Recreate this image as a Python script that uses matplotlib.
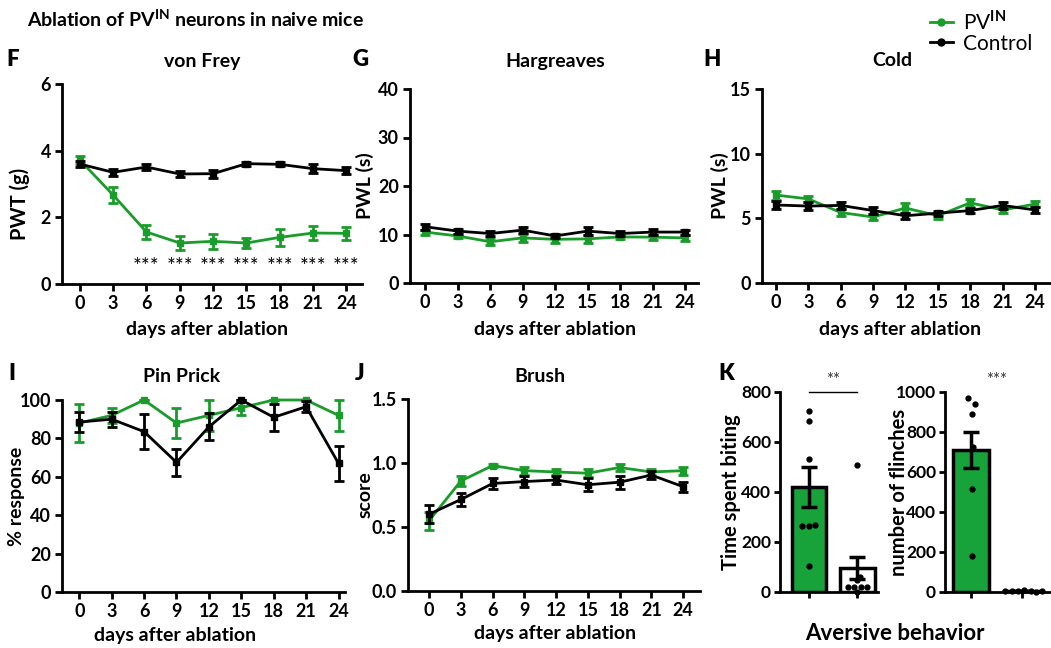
import numpy as np
import matplotlib
matplotlib.use("Agg")
import matplotlib.pyplot as plt
from matplotlib.lines import Line2D

FONT = 'Lato'
plt.rcParams['font.family'] = [FONT, 'DejaVu Sans']
plt.rcParams['font.weight'] = 'bold'
plt.rcParams['mathtext.fontset'] = 'custom'
plt.rcParams['mathtext.rm'] = FONT
plt.rcParams['mathtext.bf'] = FONT + ':bold'

GREEN = '#1a9c2a'
BAR_GREEN = '#18a23a'
WB = 'bold'

days = [0, 3, 6, 9, 12, 15, 18, 21, 24]

# von Frey (PWT, g)
vf_pv = [3.72, 2.67, 1.56, 1.23, 1.28, 1.23, 1.40, 1.53, 1.52]
vf_pv_err = [0.12, 0.25, 0.2, 0.22, 0.22, 0.15, 0.25, 0.22, 0.2]
vf_ctl = [3.6, 3.35, 3.51, 3.3, 3.31, 3.61, 3.59, 3.46, 3.4]
vf_ctl_err = [0.08, 0.1, 0.09, 0.08, 0.12, 0.06, 0.06, 0.14, 0.1]
vf_sig_days = [6, 9, 12, 15, 18, 21, 24]

# Hargreaves (PWL, s)
hg_pv = [10.5, 9.7, 8.5, 9.3, 9.0, 9.1, 9.5, 9.45, 9.3]
hg_pv_err = [0.5, 0.5, 0.7, 0.8, 0.7, 0.8, 0.5, 0.5, 0.6]
hg_ctl = [11.6, 10.7, 10.2, 10.9, 9.7, 10.7, 10.2, 10.5, 10.5]
hg_ctl_err = [0.6, 0.5, 0.6, 0.6, 0.4, 0.8, 0.5, 0.6, 0.5]

# Cold (PWL, s)
cd_pv = [6.8, 6.5, 5.45, 5.1, 5.8, 5.2, 6.2, 5.65, 6.1]
cd_pv_err = [0.35, 0.25, 0.3, 0.25, 0.35, 0.25, 0.3, 0.2, 0.25]
cd_ctl = [6.03, 5.95, 6.0, 5.6, 5.2, 5.4, 5.6, 6.0, 5.65]
cd_ctl_err = [0.3, 0.3, 0.25, 0.3, 0.25, 0.2, 0.2, 0.25, 0.25]

# Pin Prick (% response)
pp_pv = [88, 92, 100, 88, 92, 96, 100, 100, 92]
pp_pv_err = [10, 4, 0, 8, 8, 4, 0, 0, 8]
pp_ctl = [88.5, 90, 83.5, 67.5, 86, 100, 91, 96.5, 67]
pp_ctl_err = [5, 4, 9, 7, 7, 0, 7, 3, 9]

# Brush (score)
br_pv = [0.55, 0.86, 0.98, 0.94, 0.93, 0.92, 0.965, 0.93, 0.94]
br_pv_err = [0.07, 0.04, 0.015, 0.03, 0.025, 0.03, 0.03, 0.025, 0.03]
br_ctl = [0.6, 0.715, 0.84, 0.855, 0.867, 0.83, 0.85, 0.906, 0.815]
br_ctl_err = [0.07, 0.05, 0.04, 0.04, 0.03, 0.05, 0.05, 0.03, 0.04]

# Aversive behavior
bite_mean = [420, 96]
bite_sem = [80, 44]
bite_pv_pts = [724, 684, 532, 264, 264, 268, 104]
bite_ctl_pts = [508, 60, 48, 20, 20, 20, 20, 2]
flinch_mean = [710, 5]
flinch_sem = [90, 2]
flinch_pv_pts = [970, 940, 890, 725, 515, 180]
flinch_ctl_pts = [4, 6, 3, 8, 5, 2, 7]

# point spread (layout only)
bite_pv_dx = [0, 0, 0, -0.14, 0, 0.12, 0]
bite_ctl_dx = [0, 0.06, 0, -0.19, -0.06, 0.08, 0.21, 0]
flinch_pv_dx = [-0.06, 0.08, 0.02, 0.05, 0.02, 0.02]
flinch_ctl_dx = [-0.33, -0.2, -0.08, 0.05, 0.17, 0.28, 0.4]

W, H = 1051, 648
fig = plt.figure(figsize=(W / 100, H / 100), dpi=100)


def rect(l, t, r, b):
    return [l / W, 1 - b / H, (r - l) / W, (b - t) / H]


def fx(x):
    return x / W


def fy(y):
    return 1 - y / H


def style(ax, size=13, length=5, pad=3):
    for s in ['top', 'right']:
        ax.spines[s].set_visible(False)
    for s in ['left', 'bottom']:
        ax.spines[s].set_linewidth(2.0)
    ax.tick_params(width=2.0, length=length, labelsize=size, pad=pad)
    for lab in ax.get_xticklabels() + ax.get_yticklabels():
        lab.set_fontweight(WB)


def line_panel(ax, pv, pv_err, ctl, ctl_err, ylim, yticks, xlim, yfmt=None):
    ax.errorbar(days, ctl, yerr=ctl_err, color='black', lw=2, marker='s', ms=5,
                capsize=3.5, capthick=2, elinewidth=2, zorder=3, clip_on=False)
    ax.errorbar(days, pv, yerr=pv_err, color=GREEN, lw=2, marker='s', ms=5,
                capsize=3.5, capthick=2, elinewidth=2, zorder=2, clip_on=False)
    ax.set_xlim(*xlim)
    ax.set_ylim(*ylim)
    ax.set_xticks(days)
    ax.set_yticks(yticks)
    if yfmt:
        ax.set_yticklabels([yfmt.format(v) for v in yticks])
    style(ax)


def ylab(ax, text, xf, yf=0.5, size=14):
    ax.set_ylabel(text, fontsize=size, fontweight=WB)
    ax.yaxis.set_label_coords(xf, yf)


# F: von Frey
axF = fig.add_axes(rect(62, 84, 362, 284))
line_panel(axF, vf_pv, vf_pv_err, vf_ctl, vf_ctl_err, (0, 6), [0, 2, 4, 6], (-1.6, 25.4))
ylab(axF, 'PWT (g)', -0.105, 0.4, size=14.5)
for d in vf_sig_days:
    axF.text(d, 0.5, '***', ha='center', va='center', fontsize=15, fontweight='normal')

# G: Hargreaves
axG = fig.add_axes(rect(410, 89, 698, 283))
line_panel(axG, hg_pv, hg_pv_err, hg_ctl, hg_ctl_err, (0, 40), [0, 10, 20, 30, 40], (-1.4, 25.2))
ylab(axG, 'PWL (s)', -0.125)

# H: Cold
axH = fig.add_axes(rect(762, 89, 1050, 283))
line_panel(axH, cd_pv, cd_pv_err, cd_ctl, cd_ctl_err, (0, 15), [0, 5, 10, 15], (-1.3, 25.4))
ylab(axH, 'PWL (s)', -0.115)

# I: Pin Prick
axI = fig.add_axes(rect(62, 400, 345, 592))
line_panel(axI, pp_pv, pp_pv_err, pp_ctl, pp_ctl_err, (0, 100), [0, 20, 40, 60, 80, 100], (-1.6, 24.6))
ylab(axI, '% response', -0.13)

# J: Brush
axJ = fig.add_axes(rect(408, 399, 700, 591))
line_panel(axJ, br_pv, br_pv_err, br_ctl, br_ctl_err, (0, 1.5), [0, 0.5, 1.0, 1.5], (-2.0, 25.6), yfmt='{:.1f}')
ylab(axJ, 'score', -0.118)


def bar_panel(ax, means, sems, pv_pts, pv_dx, ctl_pts, ctl_dx, width, ylim, yticks, xlim):
    x = np.arange(len(means))
    ax.bar(x[0], means[0], width=width, color=BAR_GREEN, edgecolor='black', linewidth=2.5, zorder=1)
    ax.bar(x[1], means[1], width=width, color='white', edgecolor='black', linewidth=2.5, zorder=1)
    for xi, m, s in zip(x, means, sems):
        ax.errorbar(xi, m, yerr=s, color='black', capsize=6, capthick=2.5, elinewidth=2.5, zorder=3)
    for xi, pts, dx in zip(x, [pv_pts, ctl_pts], [pv_dx, ctl_dx]):
        ax.plot(xi + np.array(dx), pts, 'o', color='black', ms=3.5, zorder=4, clip_on=False)
    ax.set_xlim(*xlim)
    ax.set_ylim(*ylim)
    ax.set_yticks(yticks)
    ax.set_xticks(x)
    ax.set_xticklabels([])
    style(ax, size=12.5, length=4.5, pad=2)


# K1: Time spent biting
axK1 = fig.add_axes(rect(780, 392, 878, 592))
bar_panel(axK1, bite_mean, bite_sem, bite_pv_pts, bite_pv_dx, bite_ctl_pts, bite_ctl_dx, 0.72,
          (0, 800), [0, 200, 400, 600, 800], (-0.6, 1.43))
ylab(axK1, 'Time spent biting', -0.395, size=14.5)
axK1.plot([0, 1], [800, 800], color='black', lw=1, clip_on=False)
axK1.text(0.5, 850, '**', ha='center', va='center', fontsize=12, fontweight='normal',
          color='#333333', clip_on=False)

# K2: number of flinches
axK2 = fig.add_axes(rect(945, 392, 1050, 592))
bar_panel(axK2, flinch_mean, flinch_sem, flinch_pv_pts, flinch_pv_dx, flinch_ctl_pts, flinch_ctl_dx, 0.7,
          (0, 1000), [0, 200, 400, 600, 800, 1000], (-0.5, 1.55))
ylab(axK2, 'number of flinches', -0.345, size=14.5)
axK2.text(0.5, 1060, '***', ha='center', va='center', fontsize=12, fontweight='normal',
          color='#333333', clip_on=False)

# Titles and labels
kw = dict(ha='center', va='center', fontsize=14, fontweight=WB)
fig.text(fx(202), fy(61), 'von Frey', **kw)
fig.text(fx(555), fy(61), 'Hargreaves', **kw)
fig.text(fx(892), fy(61), 'Cold', **kw)
fig.text(fx(182), fy(377), 'Pin Prick', **kw)
fig.text(fx(540), fy(377), 'Brush', **kw)

kw2 = dict(ha='center', va='center', fontsize=14, fontweight=WB)
fig.text(fx(207), fy(329), 'days after ablation', **kw2)
fig.text(fx(555), fy(329), 'days after ablation', **kw2)
fig.text(fx(900), fy(329), 'days after ablation', **kw2)
fig.text(fx(175), fy(635), 'days after ablation', **kw2)
fig.text(fx(555), fy(634), 'days after ablation', **kw2)
fig.text(fx(895), fy(634), 'Aversive behavior', ha='center', va='center', fontsize=16, fontweight=WB)

kw3 = dict(ha='left', va='center', fontsize=16, fontweight='heavy')
fig.text(fx(6), fy(60), 'F', **kw3)
fig.text(fx(352), fy(60), 'G', **kw3)
fig.text(fx(703), fy(60), 'H', **kw3)
fig.text(fx(8), fy(374), 'I', **kw3)
fig.text(fx(355), fy(374), 'J', **kw3)
fig.text(fx(718), fy(374), 'K', **kw3)

fig.text(fx(27), fy(19), r'Ablation of PV$^{\mathbf{IN}}$ neurons in naive mice', ha='left', va='center',
         fontsize=14, fontweight=WB)

handles = [Line2D([], [], color=GREEN, lw=2, marker='o', ms=5),
           Line2D([], [], color='black', lw=2, marker='o', ms=5)]
fig.legend(handles, ['PV$^{\\mathrm{IN}}$', 'Control'], loc='upper left',
           bbox_to_anchor=(fx(911), fy(-9)), frameon=False, handlelength=1.1,
           handletextpad=0.5, labelspacing=0.0, prop={'size': 15, 'weight': 'normal'})

fig.savefig('out.png', dpi=100)
